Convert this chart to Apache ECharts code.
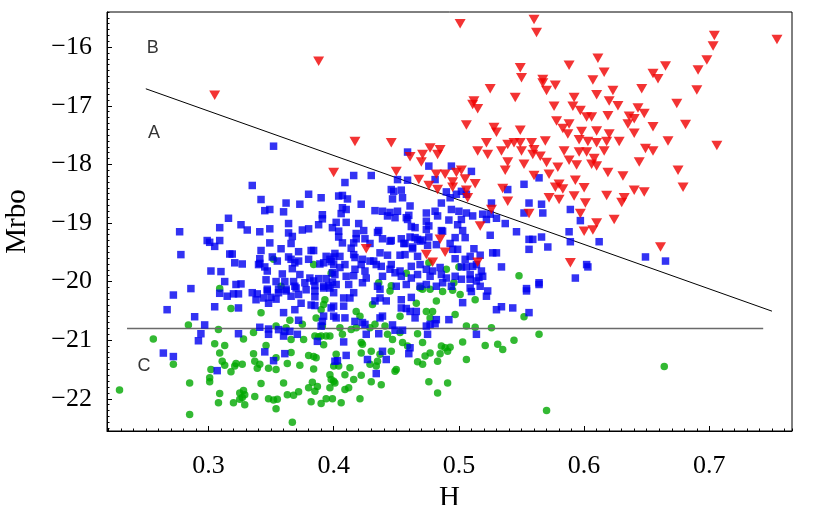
<!DOCTYPE html>
<html><head><meta charset="utf-8">
<script src="https://cdn.jsdelivr.net/npm/echarts@6/dist/echarts.min.js"></script>
<style>html,body{margin:0;padding:0;background:#fff}#c{width:819px;height:505px}</style>
</head><body><div id="c"></div>
<script>
// ---- data: [H, Mrbo] ----
const redPoints = [
[0.501,-15.60],[0.560,-15.53],[0.562,-15.75],[0.417,-17.61],[0.446,-17.63],[0.549,-16.35],[0.550,-16.52],[0.525,-16.71],[0.545,-16.86],[0.512,-16.92],[0.511,-16.98],[0.515,-17.05],[0.567,-16.55],[0.567,-16.61],[0.570,-16.74],[0.577,-16.65],[0.576,-17.01],[0.578,-17.26],[0.506,-17.33],[0.528,-17.37],[0.530,-17.45],[0.549,-17.42],[0.522,-17.63],[0.539,-17.66],[0.544,-17.63],[0.549,-17.63],[0.558,-17.63],[0.569,-17.60],[0.477,-17.72],[0.485,-17.75],[0.515,-17.77],[0.534,-17.77],[0.550,-17.77],[0.560,-17.75],
[0.704,-15.80],[0.703,-15.98],[0.754,-15.87],[0.698,-16.22],[0.691,-16.39],[0.690,-16.73],[0.665,-16.32],[0.655,-16.45],[0.659,-16.54],[0.646,-16.71],[0.674,-16.96],[0.611,-16.19],[0.588,-16.31],[0.616,-16.43],[0.607,-16.56],[0.623,-16.74],[0.610,-16.81],[0.592,-16.86],[0.620,-16.92],[0.591,-17.01],[0.627,-17.00],[0.643,-17.04],[0.597,-17.08],[0.648,-17.13],[0.602,-17.19],[0.606,-17.19],[0.619,-17.17],[0.636,-17.18],[0.640,-17.22],[0.635,-17.31],[0.655,-17.36],[0.681,-17.32],[0.588,-17.31],[0.583,-17.39],[0.587,-17.48],[0.598,-17.44],[0.610,-17.43],[0.620,-17.48],[0.640,-17.47],[0.596,-17.58],[0.603,-17.61],[0.610,-17.63],[0.618,-17.61],[0.628,-17.61],[0.667,-17.60],[0.706,-17.68],[0.584,-17.77],[0.596,-17.79],[0.602,-17.79],[0.616,-17.77],[0.649,-17.73],[0.655,-17.77],
[0.588,-17.93],[0.608,-17.90],[0.606,-18.00],[0.610,-18.03],[0.579,-18.05],[0.594,-18.01],[0.644,-17.96],[0.675,-18.10],[0.619,-18.14],[0.631,-18.20],[0.679,-18.39],[0.580,-18.34],[0.583,-18.42],[0.593,-18.27],[0.600,-18.40],[0.640,-18.44],[0.648,-18.47],[0.618,-18.53],[0.632,-18.57],[0.630,-18.65],[0.580,-18.60],[0.592,-18.54],[0.601,-18.66],[0.597,-18.84],[0.624,-18.94],[0.610,-19.00],[0.600,-19.14],[0.607,-19.12],[0.661,-19.41],[0.589,-19.68],
[0.388,-16.24],[0.305,-16.82],
[0.461,-17.87],[0.471,-17.83],[0.470,-17.96],[0.483,-17.83],[0.523,-17.83],[0.539,-17.96],[0.537,-18.10],[0.552,-18.00],[0.559,-17.83],[0.565,-17.86],[0.570,-17.97],[0.560,-18.19],[0.572,-18.17],[0.400,-18.14],[0.450,-18.12],[0.468,-18.26],[0.482,-18.17],[0.489,-18.17],[0.498,-18.14],[0.502,-18.10],[0.505,-18.25],[0.495,-18.30],[0.495,-18.39],[0.513,-18.33],[0.476,-18.36],[0.483,-18.43],[0.506,-18.44],[0.507,-18.57],[0.535,-18.41],[0.539,-18.63],[0.556,-18.84],[0.572,-18.57],[0.577,-18.39],[0.526,-18.77],[0.517,-19.05],[0.485,-19.28],[0.489,-19.50],[0.474,-19.54],[0.479,-19.67],[0.515,-19.67],[0.426,-19.44]
];
const bluePoints = [
[0.352,-17.69],[0.459,-17.79],
[0.335,-18.36],[0.380,-18.51],[0.390,-18.57],[0.342,-18.60],[0.362,-18.66],[0.373,-18.68],[0.345,-18.79],[0.349,-18.77],[0.360,-18.81],[0.391,-18.86],[0.391,-18.93],[0.316,-18.92],[0.364,-19.01],[0.388,-19.03],[0.326,-19.03],[0.399,-19.08],[0.309,-19.08],[0.331,-19.12],[0.349,-19.10],[0.341,-19.15],[0.375,-19.12],[0.380,-19.10],[0.277,-19.15],[0.364,-19.17],[0.367,-19.23],[0.366,-19.35],[0.299,-19.30],[0.301,-19.33],[0.309,-19.30],[0.305,-19.40],[0.349,-19.34],[0.358,-19.44],[0.342,-19.47],[0.372,-19.49],[0.382,-19.47],[0.384,-19.47],[0.278,-19.54],[0.317,-19.53],[0.319,-19.53],[0.351,-19.58],[0.364,-19.58],[0.366,-19.62],[0.341,-19.61],[0.341,-19.69],[0.340,-19.71],[0.355,-19.65],[0.372,-19.65],[0.380,-19.62],[0.394,-19.57],[0.400,-19.58],[0.398,-19.66],[0.392,-19.68],[0.389,-19.70],[0.321,-19.68],[0.327,-19.70],[0.369,-19.68],[0.345,-19.75],[0.347,-19.82],[0.367,-19.78],[0.302,-19.82],[0.310,-19.83],[0.359,-19.87],[0.373,-19.88],[0.381,-19.94],[0.388,-19.95],[0.384,-19.99],[0.394,-19.95],[0.399,-19.85],[0.399,-20.01],[0.346,-19.97],[0.313,-20.00],[0.322,-20.05],[0.326,-20.04],[0.354,-20.00],[0.361,-20.00],[0.368,-20.00],[0.369,-20.08],[0.377,-20.02],[0.385,-20.07],[0.392,-20.08],[0.396,-20.07],[0.286,-20.12],[0.347,-20.13],[0.356,-20.13],[0.362,-20.13],
[0.272,-20.23],[0.267,-20.48],[0.289,-20.60],[0.297,-20.74],[0.294,-20.89],[0.292,-21.01],[0.264,-21.22],[0.272,-21.28],[0.307,-21.52],[0.305,-20.43],[0.309,-20.20],[0.315,-20.25],[0.320,-20.21],[0.324,-20.21],[0.324,-20.45],[0.324,-20.89],[0.335,-20.19],[0.339,-20.21],[0.338,-20.31],[0.344,-20.28],[0.348,-20.37],[0.347,-20.16],[0.350,-20.27],[0.354,-20.30],[0.356,-20.19],[0.362,-20.16],[0.366,-20.25],[0.370,-20.11],[0.372,-20.22],[0.378,-20.14],[0.385,-20.16],[0.385,-20.26],[0.392,-20.11],[0.397,-20.11],[0.400,-20.19],[0.360,-20.53],[0.369,-20.48],[0.374,-20.37],[0.372,-20.66],[0.382,-20.40],[0.385,-20.41],[0.392,-20.59],[0.391,-20.68],[0.390,-20.76],[0.398,-20.45],[0.400,-20.59],[0.341,-20.78],[0.348,-20.81],[0.348,-20.90],[0.356,-20.82],[0.360,-20.93],[0.365,-20.85],[0.371,-20.90],[0.361,-20.85],[0.387,-21.02],[0.345,-21.20],[0.361,-21.23],[0.352,-21.35],[0.401,-21.36],
[0.476,-18.03],[0.494,-18.03],[0.510,-18.12],[0.430,-18.19],[0.416,-18.19],[0.409,-18.31],[0.451,-18.26],[0.459,-18.27],[0.481,-18.26],[0.446,-18.43],[0.448,-18.46],[0.454,-18.44],[0.447,-18.59],[0.455,-18.57],[0.490,-18.47],[0.498,-18.51],[0.502,-18.46],[0.506,-18.51],[0.493,-18.57],[0.404,-18.54],[0.407,-18.53],[0.411,-18.59],[0.422,-18.68],[0.433,-18.79],[0.439,-18.80],[0.445,-18.82],[0.451,-18.80],[0.443,-18.88],[0.449,-18.91],[0.458,-18.91],[0.461,-18.71],[0.407,-18.74],[0.406,-18.84],[0.410,-18.77],[0.474,-18.83],[0.481,-18.80],[0.474,-18.97],[0.483,-18.88],[0.476,-19.05],[0.486,-18.66],[0.494,-18.77],[0.500,-18.80],[0.506,-18.83],[0.511,-18.88],[0.519,-18.85],[0.525,-18.85],[0.522,-18.94],[0.530,-18.92],[0.502,-18.94],[0.492,-18.95],[0.499,-19.03],[0.503,-19.13],[0.526,-18.66],[0.537,-19.01],[0.546,-19.15],[0.552,-18.34],[0.564,-18.23],[0.556,-18.66],[0.566,-18.68],[0.567,-18.83],[0.552,-18.83],[0.539,-18.43],[0.525,-19.21],[0.556,-19.28],[0.559,-19.28],[0.556,-19.45],[0.566,-19.24],[0.571,-19.41],[0.527,-19.51],[0.530,-19.51],[0.534,-19.75],[0.512,-19.44],[0.509,-19.57],[0.517,-19.55],[0.518,-19.82],[0.511,-19.74],[0.516,-19.93],[0.564,-20.02],[0.554,-20.12],[0.505,-19.25],[0.497,-19.25],[0.499,-19.45],[0.497,-19.61],[0.505,-19.62],[0.495,-19.45],[0.502,-19.75],[0.506,-19.75],[0.514,-19.71],[0.509,-19.88],[0.514,-19.99],[0.519,-19.91],[0.517,-20.08],[0.465,-19.08],[0.474,-19.11],[0.476,-19.24],[0.486,-19.13],[0.487,-19.14],[0.482,-19.37],[0.475,-19.38],[0.493,-19.35],[0.459,-18.94],[0.460,-18.87],[0.462,-19.06],[0.465,-19.25],[0.467,-19.28],[0.461,-19.24],[0.469,-19.31],[0.471,-19.29],[0.463,-19.41],[0.456,-19.35],[0.446,-19.30],[0.436,-19.13],[0.435,-19.16],[0.424,-19.13],[0.418,-19.18],[0.418,-19.27],[0.416,-19.34],[0.414,-19.43],[0.402,-18.99],[0.410,-18.99],[0.420,-19.01],[0.404,-19.14],[0.404,-19.24],[0.407,-19.34],[0.425,-19.27],[0.429,-19.35],[0.439,-19.27],[0.445,-19.31],[0.454,-19.27],[0.457,-19.35],[0.401,-19.52],[0.405,-19.57],[0.416,-19.54],[0.417,-19.59],[0.423,-19.62],[0.429,-19.65],[0.437,-19.51],[0.443,-19.55],[0.453,-19.55],[0.457,-19.54],[0.463,-19.44],[0.467,-19.57],[0.397,-19.62],[0.400,-19.71],[0.409,-19.71],[0.405,-19.76],[0.417,-19.79],[0.422,-19.71],[0.425,-19.82],[0.432,-19.65],[0.434,-19.71],[0.438,-19.74],[0.446,-19.71],[0.445,-19.79],[0.449,-19.85],[0.453,-19.82],[0.462,-19.74],[0.469,-19.71],[0.474,-19.79],[0.479,-19.82],[0.485,-19.76],[0.401,-19.88],[0.410,-19.91],[0.416,-19.90],[0.426,-19.94],[0.439,-19.91],[0.454,-19.91],[0.462,-19.94],[0.467,-19.88],[0.477,-19.91],[0.486,-19.88],[0.490,-19.94],[0.497,-19.91],[0.502,-19.96],[0.509,-19.96],[0.402,-20.05],[0.412,-20.05],[0.423,-20.02],[0.435,-20.08],[0.450,-20.08],[0.458,-20.05],[0.469,-20.08],[0.474,-20.05],[0.482,-20.08],[0.487,-20.02],[0.494,-20.08],
[0.589,-18.77],[0.597,-18.96],[0.588,-19.15],[0.589,-19.32],[0.612,-19.32],[0.649,-19.58],[0.665,-19.65],[0.602,-19.71],[0.603,-19.75],[0.593,-19.94],
[0.408,-20.28],[0.413,-20.28],[0.416,-20.19],[0.408,-20.42],[0.400,-20.42],[0.402,-20.62],[0.409,-20.62],[0.417,-20.68],[0.423,-20.70],[0.425,-20.73],[0.433,-20.33],[0.437,-20.28],[0.437,-20.13],[0.442,-20.33],[0.439,-20.59],[0.437,-20.62],[0.447,-20.74],[0.454,-20.31],[0.462,-20.27],[0.454,-20.45],[0.458,-20.46],[0.461,-20.51],[0.465,-20.62],[0.466,-20.51],[0.474,-20.76],[0.477,-20.73],[0.481,-20.72],[0.482,-20.65],[0.492,-20.65],[0.503,-20.36],[0.509,-20.11],[0.510,-20.17],[0.522,-20.25],[0.523,-20.16],[0.530,-20.48],[0.534,-20.43],[0.543,-20.45],[0.554,-20.16],[0.556,-20.53],[0.564,-20.05],[0.426,-20.90],[0.436,-20.89],[0.449,-20.83],[0.455,-20.83],[0.475,-20.90],[0.514,-20.90],[0.408,-21.03],[0.461,-21.13],[0.460,-21.23],[0.439,-21.19],[0.442,-21.33],[0.427,-21.33],[0.410,-21.26],[0.403,-21.35],[0.434,-21.57]
];
const greenPoints = [
[0.229,-21.85],[0.256,-20.98],[0.272,-21.41],[0.285,-21.73],[0.285,-22.27],[0.284,-20.74],[0.309,-20.12],[0.308,-20.82],[0.318,-20.46],[0.305,-21.06],[0.313,-21.09],[0.309,-21.22],[0.311,-21.36],[0.313,-21.43],[0.322,-21.40],[0.321,-21.44],[0.327,-21.41],[0.318,-21.54],[0.302,-21.50],[0.301,-21.64],[0.301,-21.71],[0.309,-21.91],[0.308,-22.07],[0.320,-22.07],[0.325,-21.90],[0.327,-21.98],[0.328,-21.86],[0.329,-21.93],[0.329,-22.10],[0.325,-22.01],[0.337,-21.96],[0.328,-20.98],[0.336,-20.87],[0.336,-21.23],[0.337,-21.36],[0.341,-21.41],[0.339,-21.48],[0.342,-21.74],[0.348,-21.48],[0.346,-21.09],[0.354,-21.30],[0.354,-21.50],[0.342,-20.53],[0.354,-20.76],[0.362,-20.79],[0.365,-20.66],[0.366,-20.99],[0.366,-21.21],[0.363,-21.40],[0.373,-21.43],[0.376,-20.99],[0.380,-21.26],[0.384,-21.28],[0.386,-21.30],[0.384,-21.49],[0.392,-21.08],[0.388,-20.94],[0.360,-21.73],[0.363,-21.93],[0.368,-21.94],[0.372,-21.88],[0.380,-21.81],[0.383,-21.72],[0.385,-21.87],[0.387,-21.79],[0.348,-22.00],[0.352,-22.02],[0.355,-22.01],[0.354,-22.17],[0.367,-22.40],[0.382,-22.05],[0.390,-22.08],[0.394,-22.00],[0.399,-22.00],[0.397,-21.81],[0.398,-21.67],[0.390,-20.93],[0.394,-20.93],[0.397,-20.93],[0.385,-20.93],[0.392,-20.39],[0.390,-20.48],[0.393,-20.31],[0.386,-20.62],[0.391,-20.76],[0.400,-21.44],[0.397,-21.59],[0.400,-21.70],[0.375,-20.73],
[0.358,-20.08],[0.384,-19.71],[0.398,-19.86],[0.352,-19.62],
[0.476,-19.68],[0.490,-19.79],[0.500,-19.75],[0.548,-19.90],[0.496,-20.02],[0.436,-20.02],[0.446,-20.07],[0.458,-19.86],[0.469,-20.11],
[0.482,-20.33],[0.487,-20.17],[0.495,-20.15],[0.501,-20.22],[0.513,-20.31],[0.466,-20.37],[0.471,-20.13],[0.477,-20.13],[0.474,-20.51],[0.479,-20.51],[0.497,-20.56],[0.477,-20.62],[0.453,-20.59],[0.445,-20.16],[0.431,-20.39],[0.418,-20.51],[0.421,-20.59],[0.418,-20.79],[0.405,-20.79],[0.407,-20.90],[0.414,-20.82],[0.429,-20.79],[0.433,-20.73],[0.441,-20.76],[0.443,-20.90],[0.453,-20.87],[0.447,-20.99],[0.467,-20.89],[0.455,-21.04],[0.471,-21.04],[0.430,-21.19],[0.437,-21.24],[0.446,-21.19],[0.459,-21.10],[0.486,-21.10],[0.489,-21.13],[0.493,-21.12],[0.491,-21.19],[0.477,-21.22],[0.473,-21.27],[0.467,-21.37],[0.471,-21.41],[0.483,-21.36],[0.485,-21.23],[0.503,-21.03],[0.506,-20.76],[0.513,-20.78],[0.526,-20.79],[0.521,-21.09],[0.531,-21.07],[0.535,-21.16],[0.544,-21.00],[0.506,-21.33],[0.552,-20.60],[0.564,-20.90],[0.570,-22.20],[0.422,-21.04],[0.423,-21.07],[0.422,-21.22],[0.429,-21.41],[0.434,-21.44],[0.450,-21.50],[0.449,-21.53],[0.413,-21.47],[0.409,-21.59],[0.416,-21.67],[0.404,-21.44],[0.401,-21.73],[0.409,-21.84],[0.412,-21.81],[0.422,-21.60],[0.430,-21.71],[0.438,-21.76],[0.476,-21.71],[0.491,-21.73],[0.483,-21.90],[0.406,-22.07],[0.421,-22.00],[0.435,-21.36],[0.402,-21.24],
[0.664,-21.45]
];
// dividing lines
const lineAB = [[0.25,-16.71],[0.75,-20.505]];
const lineC = [[0.235,-20.8],[0.743,-20.8]];
// region labels
const regionNames = ['B','A','C'];
const regionPos = [[0.2555,-16.02],[0.2565,-17.46],[0.2486,-21.44]];
// axis ranges
const xRange = [0.219, 0.766];
const yRange = [-22.55, -15.40];

const serif = 'Liberation Serif, Times New Roman, serif';
const minus = v => String(v).replace('-', '\u2212');
const chart = echarts.init(document.getElementById('c'), null, {renderer:'canvas'});
const majorX = {
  type:'value', min:xRange[0], max:xRange[1], splitNumber:5, position:'bottom',
  axisLine:{onZero:false, lineStyle:{color:'#000', width:1}},
  axisTick:{inside:true, length:5, lineStyle:{color:'#000'}},
  axisLabel:{showMinLabel:false, showMaxLabel:false, color:'#000', fontFamily:serif, fontSize:26, margin:22},
  splitLine:{show:false},
  name:'H', nameLocation:'middle', nameGap:46,
  nameTextStyle:{color:'#000', fontFamily:serif, fontSize:29}
};
const minorX = {
  type:'value', min:xRange[0], max:xRange[1], splitNumber:55, position:'bottom', offset:0,
  axisLine:{show:false}, axisTick:{inside:true, length:2.5, lineStyle:{color:'#000'}},
  axisLabel:{show:false}, splitLine:{show:false}
};
const majorY = {
  type:'value', min:yRange[0], max:yRange[1], splitNumber:5, position:'left',
  axisLine:{onZero:false, lineStyle:{color:'#000', width:1}},
  axisTick:{inside:true, length:5, lineStyle:{color:'#000'}},
  axisLabel:{showMinLabel:false, showMaxLabel:false, color:'#000', fontFamily:serif, fontSize:26, margin:15, formatter:minus},
  splitLine:{show:false},
  name:'Mrbo', nameLocation:'middle', nameGap:75,
  nameTextStyle:{color:'#000', fontFamily:serif, fontSize:29}
};
const minorY = {
  type:'value', min:yRange[0], max:yRange[1], splitNumber:71, position:'left', offset:0,
  axisLine:{show:false}, axisTick:{inside:true, length:2.5, lineStyle:{color:'#000'}},
  axisLabel:{show:false}, splitLine:{show:false}
};
chart.setOption({
  animation:false,
  grid:{left:107, right:27, top:12, bottom:74, show:true, borderColor:'#000', borderWidth:1,
        backgroundColor:'transparent', containLabel:false, outerBoundsMode:'none'},
  xAxis:[majorX, minorX],
  yAxis:[majorY, minorY],
  series:[
    {type:'scatter', data:greenPoints, symbol:'circle', symbolSize:7.5, itemStyle:{color:'#00a800'}, z:2},
    {type:'line', data:lineAB, showSymbol:false, symbol:'none', lineStyle:{color:'#000', width:1}, z:3, silent:true},
    {type:'line', data:lineC, showSymbol:false, symbol:'none', lineStyle:{color:'#6a6a6a', width:1.6}, z:3, silent:true},
    {type:'scatter', data:bluePoints, symbol:'rect', symbolSize:7.5, itemStyle:{color:'#0000f0'}, z:4},
    {type:'scatter', data:redPoints, symbol:'path://M0,0L10,0L5,9Z', symbolSize:[11,9.5], itemStyle:{color:'#f00000'}, z:5},
    {type:'scatter', data:regionPos.map((p,i)=>({value:p, name:regionNames[i]})), symbolSize:0, z:6,
      label:{show:true, position:'inside', formatter:p=>p.name, color:'#000', fontFamily:'Liberation Sans, Arial, sans-serif', fontSize:18}}
  ]
});
</script></body></html>
